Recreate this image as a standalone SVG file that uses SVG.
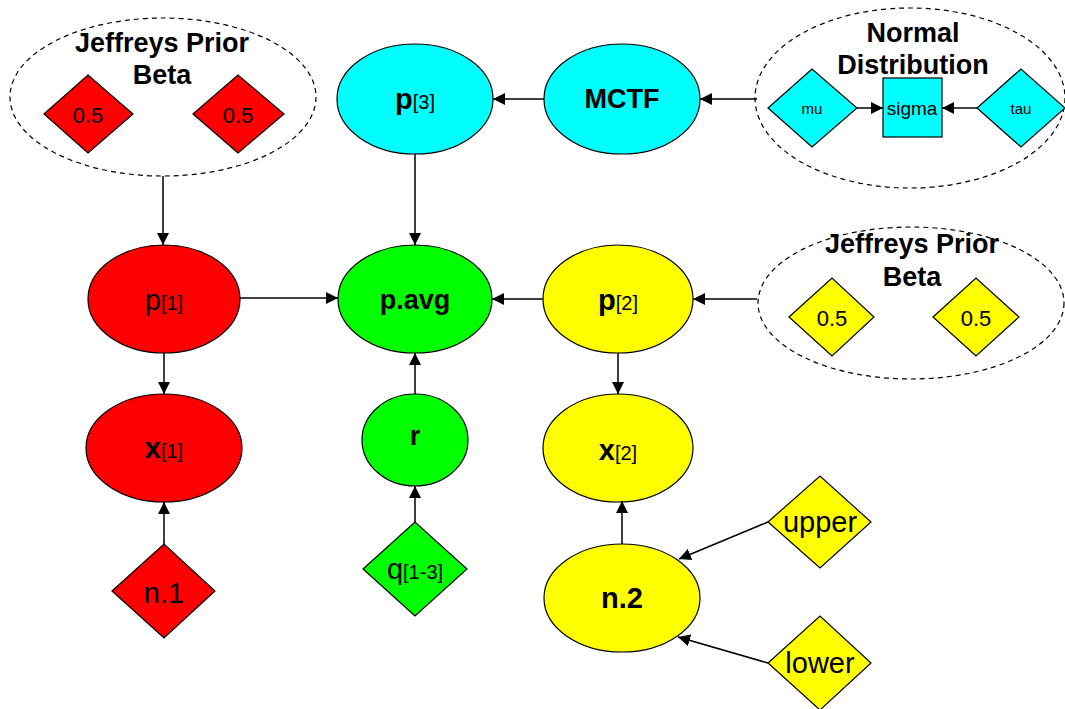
<svg xmlns="http://www.w3.org/2000/svg" width="1065" height="709" viewBox="0 0 1065 709">
<defs>
<style>
text{font-family:"Liberation Sans",Arial,sans-serif;fill:#000;text-anchor:middle}
.b{font-weight:bold}
.n{stroke:#000;stroke-width:1.2}
.red{fill:#FF0000}.grn{fill:#00FF00}.cyn{fill:#00FFFF}.yel{fill:#FFFF00}
.grp{fill:none;stroke:#000;stroke-width:1.2;stroke-dasharray:5 4}
.c line{stroke:#000;stroke-width:1.5;marker-end:url(#ah)}
.t27{font-size:27px}.t29{font-size:29px}.t22{font-size:22px}.sub{font-size:20px;font-weight:normal}
</style>
<marker id="ah" markerUnits="userSpaceOnUse" markerWidth="12" markerHeight="12" viewBox="0 0 12 12" refX="12" refY="6" orient="auto">
<path d="M0,0 L12,6 L0,12 z" fill="#000"/>
</marker>
</defs>
<rect width="1065" height="709" fill="#fff"/>

<g id="jeffreys1">
<ellipse class="grp" cx="163" cy="97" rx="153" ry="79"/>
<text class="b t27" x="162" y="52">Jeffreys Prior</text>
<text class="b t27" x="162" y="84">Beta</text>
<polygon class="n red" points="44,114 88,75 133,114 88,153"/>
<text class="t22" x="88" y="123">0.5</text>
<polygon class="n red" points="193,114 238,75 284,114 238,153"/>
<text class="t22" x="238" y="123">0.5</text>
</g>

<g id="normal">
<ellipse class="grp" cx="910" cy="98" rx="155" ry="90"/>
<text class="b t27" x="913" y="42">Normal</text>
<text class="b t27" x="913" y="74">Distribution</text>
<polygon class="n cyn" points="768,108 812,69 857,108 812,147"/>
<text x="812" y="114" style="font-size:15px">mu</text>
<rect class="n cyn" x="883" y="78" width="59" height="59"/>
<text x="912" y="115" style="font-size:19px">sigma</text>
<polygon class="n cyn" points="977,108 1021,69 1065,108 1021,147"/>
<text x="1021" y="114" style="font-size:15px">tau</text>
</g>

<g id="jeffreys2">
<ellipse class="grp" cx="911" cy="303" rx="153" ry="76"/>
<text class="b t27" x="912" y="253">Jeffreys Prior</text>
<text class="b t27" x="912" y="286">Beta</text>
<polygon class="n yel" points="789,317 832,278 874,317 832,356"/>
<text class="t22" x="832" y="326">0.5</text>
<polygon class="n yel" points="933,317 976,278 1019,317 976,356"/>
<text class="t22" x="976" y="326">0.5</text>
</g>

<g id="p3"><ellipse class="n cyn" cx="415" cy="99" rx="78" ry="55"/><text class="t29" x="415" y="109"><tspan class="b">p</tspan><tspan class="sub">[3]</tspan></text></g>
<g id="mctf"><ellipse class="n cyn" cx="622" cy="99" rx="78" ry="55"/><text class="b t27" x="622" y="108">MCTF</text></g>

<g id="p1"><ellipse class="n red" cx="164" cy="299" rx="76" ry="54"/><text class="t29" x="164" y="310">p<tspan class="sub">[1]</tspan></text></g>
<g id="pavg"><ellipse class="n grn" cx="415" cy="299" rx="77" ry="54"/><text class="b t27" x="415" y="309">p.avg</text></g>
<g id="p2"><ellipse class="n yel" cx="618" cy="299" rx="75" ry="54"/><text class="t29" x="618" y="310"><tspan class="b">p</tspan><tspan class="sub">[2]</tspan></text></g>

<g id="x1"><ellipse class="n red" cx="164" cy="448" rx="78" ry="54"/><text class="t29" x="164" y="458"><tspan class="b">x</tspan><tspan class="sub">[1]</tspan></text></g>
<g id="r"><ellipse class="n grn" cx="415" cy="440" rx="53" ry="46"/><text class="b t27" x="415" y="445">r</text></g>
<g id="x2"><ellipse class="n yel" cx="618" cy="448" rx="75" ry="54"/><text class="t29" x="618" y="460"><tspan class="b">x</tspan><tspan class="sub">[2]</tspan></text></g>

<g id="n1"><polygon class="n red" points="112,591 164,544 215,591 164,638"/><text class="t29" x="164" y="603">n.1</text></g>
<g id="q"><polygon class="n grn" points="363,569 415,522 467,569 415,616"/><text class="t29" x="415" y="579">q<tspan class="sub">[1-3]</tspan></text></g>
<g id="n2"><ellipse class="n yel" cx="622" cy="598" rx="78" ry="54"/><text class="b t29" x="622" y="608">n.2</text></g>
<g id="upper"><polygon class="n yel" points="768,522 820,476 871,522 820,568"/><text class="t29" x="820" y="532">upper</text></g>
<g id="lower"><polygon class="n yel" points="768,663 820,616 871,663 820,710"/><text class="t29" x="820" y="673">lower</text></g>

<g id="connectors" class="c">
<line x1="163" y1="176" x2="163" y2="245"/>
<line x1="415" y1="154" x2="415" y2="245"/>
<line x1="544" y1="99" x2="493" y2="99"/>
<line x1="757" y1="99" x2="700" y2="99"/>
<line x1="857" y1="108" x2="883" y2="108"/>
<line x1="977" y1="108" x2="942" y2="108"/>
<line x1="240" y1="298" x2="338" y2="298"/>
<line x1="543" y1="299" x2="492" y2="299"/>
<line x1="757" y1="299" x2="693" y2="299"/>
<line x1="164" y1="353" x2="164" y2="394"/>
<line x1="618" y1="353" x2="618" y2="394"/>
<line x1="415" y1="394" x2="415" y2="353"/>
<line x1="415" y1="522" x2="415" y2="486"/>
<line x1="164" y1="544" x2="164" y2="502"/>
<line x1="622" y1="544" x2="622" y2="501"/>
<line x1="768" y1="522" x2="679" y2="559"/>
<line x1="768" y1="663" x2="678" y2="637"/>
</g>
</svg>
